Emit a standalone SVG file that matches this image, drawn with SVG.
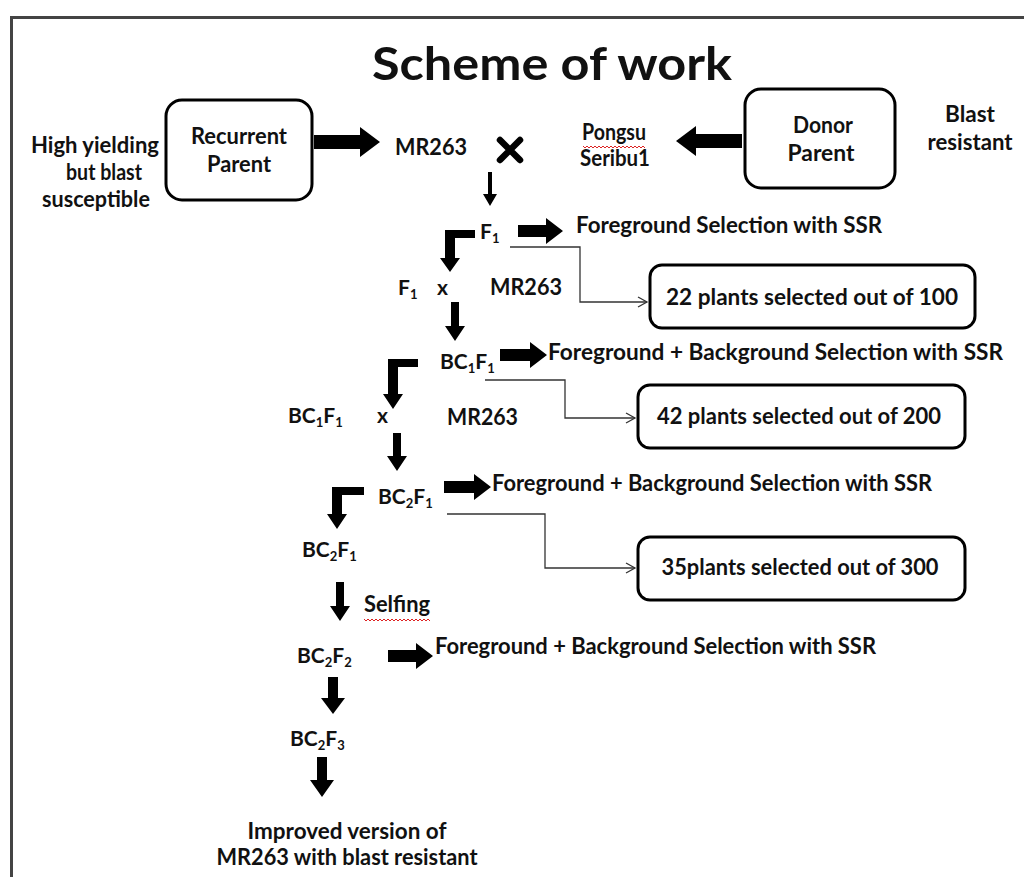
<svg xmlns="http://www.w3.org/2000/svg" width="1024" height="877" viewBox="0 0 1024 877">
<defs>
<style>
text{font-family:Lato,"Liberation Sans",sans-serif;font-weight:bold;font-size:22px;fill:#111;}
.c{text-anchor:middle;}
.bc{font-size:21px;}
.box{fill:#fff;stroke:#000;stroke-width:3;}
.thick{fill:#000;}
.thin{fill:none;stroke:#333;stroke-width:1.3;}
.wavy{fill:none;stroke:#d22;stroke-width:1;}
.sub{font-size:13px;}
</style>
<marker id="open" markerWidth="12" markerHeight="12" refX="10" refY="6" orient="auto" markerUnits="userSpaceOnUse">
<path d="M1,1 L10,6 L1,11" fill="none" stroke="#333" stroke-width="1.3"/>
</marker>
</defs>
<rect width="1024" height="877" fill="#fff"/>
<path d="M11.5,877 V17.5 H1024" fill="none" stroke="#444" stroke-width="3"/>

<text x="552" y="80" class="c" style="font-size:46px" textLength="360" lengthAdjust="spacingAndGlyphs">Scheme of work</text>

<g id="label-high-yielding">
<text x="95" y="153" class="c" textLength="128" lengthAdjust="spacingAndGlyphs">High yielding</text>
<text x="104" y="180" class="c" textLength="76" lengthAdjust="spacingAndGlyphs">but blast</text>
<text x="96" y="207" class="c" textLength="108" lengthAdjust="spacingAndGlyphs">susceptible</text>
</g>
<g id="recurrent-parent">
<rect class="box" x="166" y="100" width="146" height="100" rx="16"/>
<text x="239" y="144" class="c" textLength="96" lengthAdjust="spacingAndGlyphs">Recurrent</text>
<text x="239" y="172" class="c" textLength="64" lengthAdjust="spacingAndGlyphs">Parent</text>
</g>
<g id="mr263"><text x="431" y="155" class="c" textLength="72" lengthAdjust="spacingAndGlyphs">MR263</text></g>
<g id="cross-mark"><path d="M500,140 L520,160 M520,140 L500,160" stroke="#000" stroke-width="6.5" stroke-linecap="round"/></g>
<g id="pongsu">
<text x="614" y="140" class="c" textLength="64" lengthAdjust="spacingAndGlyphs">Pongsu</text>
<text x="615" y="166" class="c" textLength="70" lengthAdjust="spacingAndGlyphs">Seribu1</text>
<polyline class="wavy" points="583,146 585,148 587,146 589,148 591,146 593,148 595,146 597,148 599,146 601,148 603,146 605,148 607,146 609,148 611,146 613,148 615,146 617,148 619,146 621,148 623,146 625,148 627,146 629,148 631,146 633,148 635,146 637,148 639,146 641,148 643,146 645,148"/>
</g>
<g id="donor-parent">
<rect class="box" x="745" y="89" width="150" height="99" rx="16"/>
<text x="823" y="133" class="c" textLength="60" lengthAdjust="spacingAndGlyphs">Donor</text>
<text x="821" y="161" class="c" textLength="67" lengthAdjust="spacingAndGlyphs">Parent</text>
</g>
<g id="label-blast-resistant">
<text x="970" y="122" class="c" textLength="50" lengthAdjust="spacingAndGlyphs">Blast</text>
<text x="970" y="150" class="c" textLength="85" lengthAdjust="spacingAndGlyphs">resistant</text>
</g>

<g id="f1">
<text x="480" y="239" class="bc">F<tspan class="sub" dy="4">1</tspan></text>
</g>
<g id="fg-sel-1"><text x="576" y="233" textLength="306" lengthAdjust="spacingAndGlyphs">Foreground  Selection with SSR</text></g>
<g id="box-22">
<rect class="box" x="650" y="265" width="325" height="63" rx="12"/>
<text x="812" y="305" class="c" textLength="292" lengthAdjust="spacingAndGlyphs">22 plants selected out  of 100</text>
</g>
<g id="f1-cross">
<text x="398" y="295" class="bc">F<tspan class="sub" dy="4">1</tspan></text>
<text x="437" y="295" class="bc">x</text>
<text x="490" y="295" textLength="72" lengthAdjust="spacingAndGlyphs">MR263</text>
</g>
<g id="bc1f1">
<text x="440" y="369" class="bc">BC<tspan class="sub" dy="4">1</tspan><tspan dy="-4">F</tspan><tspan class="sub" dy="4">1</tspan></text>
</g>
<g id="fgbg-sel-1"><text x="548" y="360" textLength="455" lengthAdjust="spacingAndGlyphs">Foreground + Background Selection with SSR</text></g>
<g id="box-42">
<rect class="box" x="638" y="385" width="327" height="63" rx="12"/>
<text x="799" y="424" class="c" textLength="284" lengthAdjust="spacingAndGlyphs">42 plants selected out  of 200</text>
</g>
<g id="bc1f1-cross">
<text x="288" y="423" class="bc">BC<tspan class="sub" dy="4">1</tspan><tspan dy="-4">F</tspan><tspan class="sub" dy="4">1</tspan></text>
<text x="377" y="423" class="bc">x</text>
<text x="447" y="425" textLength="71" lengthAdjust="spacingAndGlyphs">MR263</text>
</g>
<g id="bc2f1">
<text x="378" y="504" class="bc">BC<tspan class="sub" dy="4">2</tspan><tspan dy="-4">F</tspan><tspan class="sub" dy="4">1</tspan></text>
</g>
<g id="fgbg-sel-2"><text x="492" y="491" textLength="440" lengthAdjust="spacingAndGlyphs">Foreground + Background Selection with SSR</text></g>
<g id="box-35">
<rect class="box" x="638" y="537" width="327" height="63" rx="12"/>
<text x="800" y="575" class="c" textLength="277" lengthAdjust="spacingAndGlyphs">35plants selected out  of 300</text>
</g>
<g id="bc2f1-b">
<text x="302" y="557" class="bc">BC<tspan class="sub" dy="4">2</tspan><tspan dy="-4">F</tspan><tspan class="sub" dy="4">1</tspan></text>
</g>
<g id="selfing">
<text x="364" y="612" textLength="66" lengthAdjust="spacingAndGlyphs">Selfing</text>
<polyline class="wavy" points="364,619 366,621 368,619 370,621 372,619 374,621 376,619 378,621 380,619 382,621 384,619 386,621 388,619 390,621 392,619 394,621 396,619 398,621 400,619 402,621 404,619 406,621 408,619 410,621 412,619 414,621 416,619 418,621 420,619 422,621 424,619 426,621 428,619 430,621"/>
</g>
<g id="bc2f2">
<text x="297" y="663" class="bc">BC<tspan class="sub" dy="4">2</tspan><tspan dy="-4">F</tspan><tspan class="sub" dy="4">2</tspan></text>
</g>
<g id="fgbg-sel-3"><text x="435" y="654" textLength="441" lengthAdjust="spacingAndGlyphs">Foreground + Background Selection with SSR</text></g>
<g id="bc2f3">
<text x="290" y="746" class="bc">BC<tspan class="sub" dy="4">2</tspan><tspan dy="-4">F</tspan><tspan class="sub" dy="4">3</tspan></text>
</g>
<g id="improved">
<text x="347" y="839" class="c" textLength="199" lengthAdjust="spacingAndGlyphs">Improved  version of</text>
<text x="347" y="865" class="c" textLength="261" lengthAdjust="spacingAndGlyphs">MR263 with blast resistant</text>
</g>

<g id="connectors">
<polygon class="thick" points="314,135 360,135 360,127 380,142 360,157 360,149 314,149"/>
<polygon class="thick" points="742,134 696,134 696,126 676,141 696,156 696,148 742,148"/>
<polygon class="thick" points="518,225 546,225 546,218 563,231 546,244 546,237 518,237"/>
<polygon class="thick" points="500,349 530,349 530,342 547,355 530,368 530,361 500,361"/>
<polygon class="thick" points="444,481 474,481 474,474 491,487 474,500 474,493 444,493"/>
<polygon class="thick" points="388,650 416,650 416,643 433,656 416,669 416,662 388,662"/>
<polygon class="thick" points="488,172 492,172 492,194 497,194 490,206 483,194 488,194"/>
<polygon class="thick" points="475,230 445,230 445,258 440,258 450,272 460,258 455,258 455,238 475,238"/>
<polygon class="thick" points="418,359 388,359 388,394 383,394 393,409 403,394 398,394 398,367 418,367"/>
<polygon class="thick" points="364,487 332,487 332,514 327,514 337,529 347,514 342,514 342,495 364,495"/>
<polygon class="thick" points="451,302 459,302 459,326 465,326 455,341 445,326 451,326"/>
<polygon class="thick" points="393,433 401,433 401,456 407,456 397,471 387,456 393,456"/>
<polygon class="thick" points="336,582 344,582 344,606 350,606 340,621 330,606 336,606"/>
<polygon class="thick" points="328,677 338,677 338,698 345,698 333,714 321,698 328,698"/>
<polygon class="thick" points="317,757 327,757 327,780 334,780 322,797 310,780 317,780"/>
<path class="thin" d="M510,247 H580 V302 H647" marker-end="url(#open)"/>
<path class="thin" d="M485,380 H565 V418 H635" marker-end="url(#open)"/>
<path class="thin" d="M447,514 H545 V568 H635" marker-end="url(#open)"/>
</g>
</svg>
